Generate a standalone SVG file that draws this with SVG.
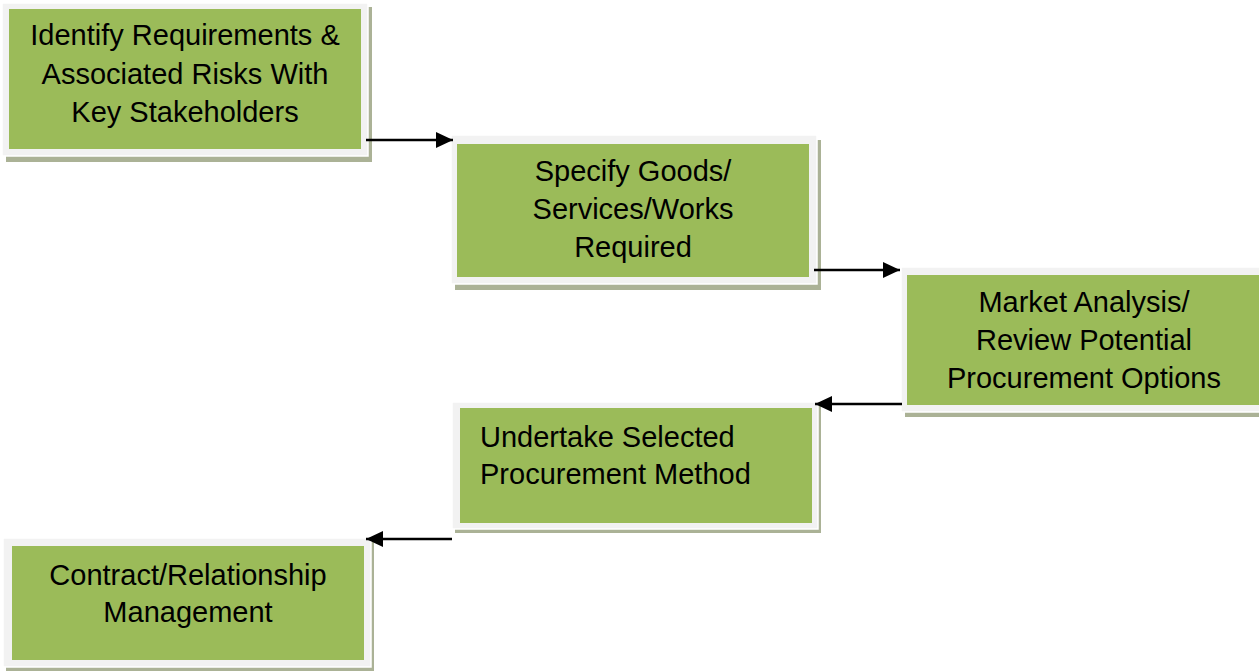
<svg xmlns="http://www.w3.org/2000/svg" width="1259" height="671" viewBox="0 0 1259 671">
<defs>
<style>
.shadow{fill:#abb296}
.frame{fill:#f2f2f2;stroke:#ffffff;stroke-width:1.5}
.fill{fill:#9bbb59}
.t{font-family:"Liberation Sans",Arial,sans-serif;font-size:29px;fill:#000}
.c{text-anchor:middle}
.conn{stroke:#000;stroke-width:2.5;fill:none;marker-end:url(#ah)}
</style>
<marker id="ah" viewBox="0 0 17 16" refX="17" refY="8" markerWidth="17" markerHeight="16" markerUnits="userSpaceOnUse" orient="auto">
<path d="M0,0 L17,8 L0,16 Z" fill="#000"/>
</marker>
</defs>
<rect width="1259" height="671" fill="#fff"/>
<g id="node1">
<rect class="shadow" x="6" y="7" width="366" height="155"/>
<rect class="frame" x="2" y="3" width="366" height="153"/>
<rect class="fill" x="9" y="9" width="352" height="140"/>
<text class="t c" x="185" y="45">Identify Requirements &amp;</text>
<text class="t c" x="185" y="83.5">Associated Risks With</text>
<text class="t c" x="185" y="122">Key Stakeholders</text>
</g>
<g id="node2">
<rect class="shadow" x="455" y="140" width="366" height="150"/>
<rect class="frame" x="451" y="135" width="366" height="149"/>
<rect class="fill" x="457" y="144" width="352" height="133"/>
<text class="t c" x="633" y="181">Specify Goods/</text>
<text class="t c" x="633" y="219">Services/Works</text>
<text class="t c" x="633" y="257">Required</text>
</g>
<g id="node3">
<rect class="shadow" x="905" y="272" width="366" height="145"/>
<rect class="frame" x="901" y="267" width="366" height="145"/>
<rect class="fill" x="907" y="275" width="354" height="130"/>
<text class="t c" x="1084" y="312">Market Analysis/</text>
<text class="t c" x="1084" y="350">Review Potential</text>
<text class="t c" x="1084" y="388">Procurement Options</text>
</g>
<g id="node4">
<rect class="shadow" x="455" y="406" width="366" height="127"/>
<rect class="frame" x="452" y="402" width="366" height="127"/>
<rect class="fill" x="460" y="408" width="352" height="115"/>
<text class="t" x="480" y="447">Undertake Selected</text>
<text class="t" x="480" y="484">Procurement Method</text>
</g>
<g id="node5">
<rect class="shadow" x="6" y="542" width="368" height="129"/>
<rect class="frame" x="3" y="538" width="368" height="129"/>
<rect class="fill" x="12" y="546" width="352" height="114"/>
<text class="t c" x="188" y="585">Contract/Relationship</text>
<text class="t c" x="188" y="622">Management</text>
</g>
<g id="connectors">
<line class="conn" x1="366" y1="140" x2="453" y2="140"/>
<line class="conn" x1="814" y1="270" x2="900" y2="270"/>
<line class="conn" x1="902" y1="404" x2="815" y2="404"/>
<line class="conn" x1="452" y1="539" x2="366" y2="539"/>
</g>
</svg>
